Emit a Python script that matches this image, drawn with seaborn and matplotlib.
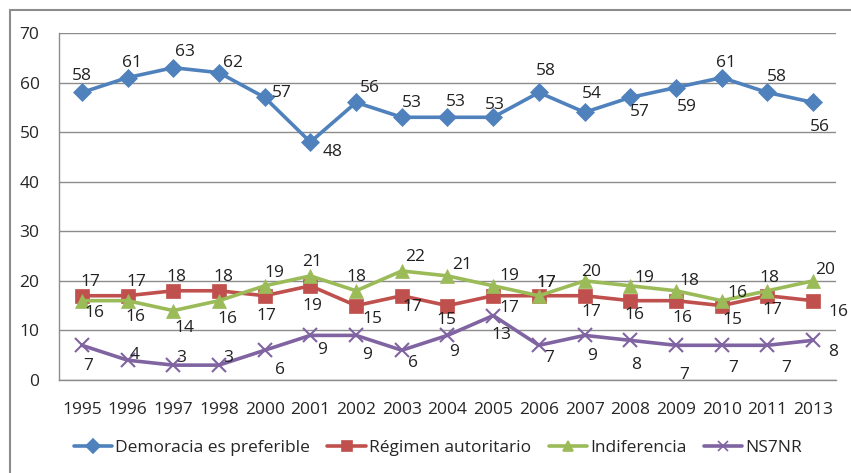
import numpy as np
import pandas as pd
import seaborn as sns
from matplotlib import pyplot as plt
from matplotlib.lines import Line2D

years = ['1995', '1996', '1997', '1998', '2000', '2001', '2002', '2003', '2004',
         '2005', '2006', '2007', '2008', '2009', '2010', '2011', '2013']
democracia = [58, 61, 63, 62, 57, 48, 56, 53, 53, 53, 58, 54, 57, 59, 61, 58, 56]
regimen = [17, 17, 18, 18, 17, 19, 15, 17, 15, 17, 17, 17, 16, 16, 15, 17, 16]
indiferencia = [16, 16, 14, 16, 19, 21, 18, 22, 21, 19, 17, 20, 19, 18, 16, 18, 20]
ns_nr = [7, 4, 3, 3, 6, 9, 9, 6, 9, 13, 7, 9, 8, 7, 7, 7, 8]
series_names = ['Demoracia es preferible', 'Régimen autoritario', 'Indiferencia', 'NS7NR']

# label offsets in pixels (dx, dy) - placed by hand like in the original
off_demo = [(0, 16), (4, 15), (12, 16), (14, 10), (17, 4), (22, -10), (14, 14), (10, 14), (8, 15),
            (2, 12), (7, 21), (7, 18), (9, -15), (11, -19), (4, 15), (9, 15), (7, -25)]
off_reg = [(9, 14), (9, 14), (3, 14), (4, 14), (2, -20), (2, -20), (16, -13), (11, -11), (-1, -14),
           (16, -12), (7, 13), (7, -16), (4, -14), (6, -17), (11, -14), (5, -14), (25, -11)]
off_ind = [(13, -12), (8, -16), (11, -17), (8, -18), (10, 13), (2, 14), (0, 14), (13, 14), (15, 11),
           (16, 10), (7, 13), (7, 9), (14, 8), (13, 10), (16, 8), (2, 13), (12, 11)]
off_ns = [(6, -21), (7, 5), (8, 7), (9, 7), (15, -20), (12, -15), (11, -20), (11, -13), (7, -17),
          (8, -19), (10, -13), (7, -21), (6, -25), (8, -30), (11, -23), (19, -23), (20, -12)]

colors = ['#4F81BD', '#C0504D', '#9BBB59', '#8064A2']
markers = ['D', 's', '^', 'x']
msizes = [9, 10, 10, 10]

sns.set_style('white')
plt.rcParams['font.family'] = ['Open Sans', 'DejaVu Sans']

fig = plt.figure(figsize=(8.51, 4.73), dpi=100)
ax = fig.add_axes([59 / 851, 1 - 380 / 473, 777 / 851, 347 / 473])

pos = np.arange(len(years))
all_vals = [democracia, regimen, indiferencia, ns_nr]
all_offs = [off_demo, off_reg, off_ind, off_ns]

for name, vals, offs, c, m, ms in zip(series_names, all_vals, all_offs, colors, markers, msizes):
    df = pd.DataFrame({'pos': pos, 'val': vals})
    sns.lineplot(data=df, x='pos', y='val', color=c, marker=m, markersize=ms,
                 markeredgecolor=c, markeredgewidth=1.5 if m == 'x' else 0.5,
                 linewidth=2.6, ax=ax, label=name, legend=False, zorder=3)
    for p, v, (dx, dy) in zip(pos, vals, offs):
        ax.annotate(str(v), (p, v), xytext=(dx, dy), textcoords='offset pixels',
                    ha='center', va='center', fontsize=12.5, color='#222222', zorder=4)

ax.set_xlim(-0.5, len(years) - 0.5)
ax.set_ylim(0, 70)
ax.set_yticks(range(0, 71, 10))
ax.set_xticks(pos)
ax.set_xticklabels(years, fontsize=12.5)
ax.set_xticks(np.arange(-0.5, len(years), 1), minor=True)
ax.tick_params(axis='x', which='major', length=0, pad=16)
ax.tick_params(axis='x', which='minor', length=6, color='#888888', direction='out')
ax.tick_params(axis='y', labelsize=12.5, length=0, pad=14)
ax.set_xlabel('')
ax.set_ylabel('')
ax.yaxis.grid(True, color='#8c8c8c', linewidth=1)
ax.set_axisbelow(True)
for s in ['top', 'right']:
    ax.spines[s].set_visible(False)
for s in ['left', 'bottom']:
    ax.spines[s].set_color('#8c8c8c')
    ax.spines[s].set_linewidth(1)

handles = [Line2D([], [], color=c, marker=m, markersize=7, linewidth=2.6,
                  markeredgecolor=c, markeredgewidth=1.2) for c, m in zip(colors, markers)]
fig.legend(handles, series_names, loc='center', bbox_to_anchor=(438 / 851, 1 - 448 / 473),
           ncol=4, frameon=False, fontsize=12.5, handlelength=2.2, handletextpad=0.2,
           columnspacing=1.0)

# outer chart border (cut off at right and bottom like the screenshot)
fig.add_artist(Line2D([10 / 851, 10 / 851], [0, 1 - 10 / 473], color='#8c8c8c', linewidth=1.5))
fig.add_artist(Line2D([10 / 851, 1], [1 - 10 / 473, 1 - 10 / 473], color='#8c8c8c', linewidth=1.5))

fig.savefig('out.png', dpi=100)
